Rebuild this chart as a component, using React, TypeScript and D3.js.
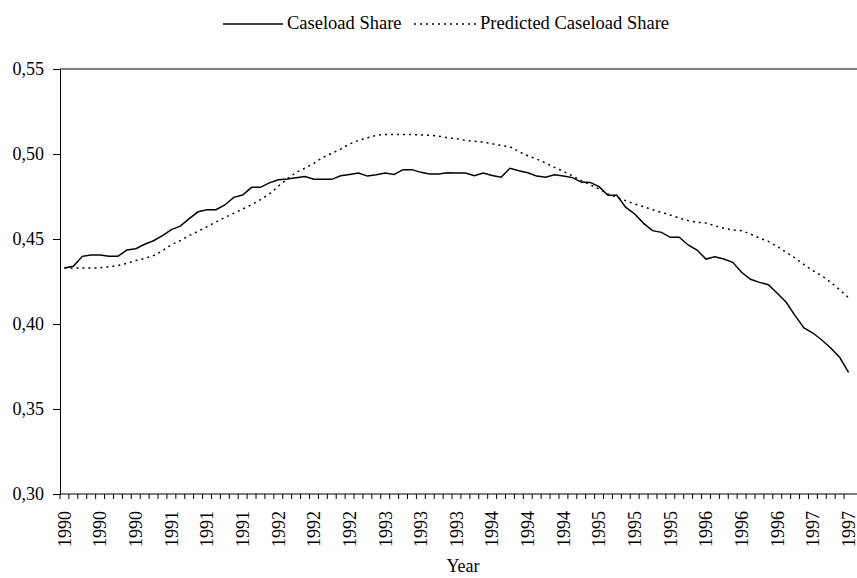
import { useEffect, useRef } from 'react';
import * as d3 from 'd3';

// monthly, Jan 1990 - May 1997
const tickLabels = [
  '1990', '1990', '1990', '1991', '1991', '1991', '1992', '1992', '1992', '1993', '1993', '1993',
  '1994', '1994', '1994', '1995', '1995', '1995', '1996', '1996', '1996', '1997', '1997',
];

const caseloadShare = [
  0.433, 0.434, 0.4398, 0.4406, 0.4406, 0.4398, 0.4398, 0.4435, 0.4443, 0.4469,
  0.449, 0.452, 0.4555, 0.4576, 0.462, 0.466, 0.4672, 0.4672, 0.47, 0.4745,
  0.4759, 0.4804, 0.4804, 0.483, 0.4849, 0.4853, 0.486, 0.4868, 0.4851, 0.4851,
  0.4851, 0.4872, 0.488, 0.4888, 0.487, 0.4878, 0.4888, 0.488, 0.4908, 0.4908,
  0.4892, 0.4882, 0.4882, 0.489, 0.4888, 0.4888, 0.4872, 0.4888, 0.4874, 0.4863,
  0.4916, 0.4902, 0.489, 0.487, 0.4863, 0.4878, 0.487, 0.4861, 0.4835, 0.4833,
  0.4808, 0.4757, 0.4757, 0.4686, 0.4647, 0.4592, 0.4549, 0.4539, 0.451, 0.451,
  0.4465, 0.4435, 0.4382, 0.4396, 0.4382, 0.4363, 0.4304, 0.4263, 0.4245, 0.4231,
  0.4181, 0.4128, 0.4049, 0.3977, 0.3947, 0.3906, 0.3859, 0.3804, 0.3715,
];

const predictedShare = [
  0.433, 0.433, 0.433, 0.433, 0.433, 0.4337, 0.4343, 0.4357, 0.4373, 0.4386,
  0.4402, 0.4431, 0.4467, 0.449, 0.452, 0.4545, 0.4573, 0.46, 0.4627, 0.4651,
  0.4676, 0.4702, 0.4731, 0.4765, 0.481, 0.4853, 0.4892, 0.4917, 0.4945, 0.498,
  0.5004, 0.5029, 0.5059, 0.508, 0.5095, 0.511, 0.5115, 0.5115, 0.5115, 0.5115,
  0.5112, 0.511, 0.5105, 0.5095, 0.509, 0.508, 0.5075, 0.507, 0.506, 0.505,
  0.5043, 0.5014, 0.499, 0.497, 0.4947, 0.4921, 0.4898, 0.4872, 0.4843, 0.4819,
  0.4794, 0.4765, 0.4745, 0.4725, 0.4706, 0.469, 0.4672, 0.4657, 0.4641, 0.4623,
  0.4608, 0.4598, 0.4594, 0.4578, 0.4563, 0.4553, 0.4549, 0.4529, 0.4506, 0.4486,
  0.4455, 0.4422, 0.4388, 0.4349, 0.4314, 0.4284, 0.4245, 0.4202, 0.4155,
];

const yTicks = [0.3, 0.35, 0.4, 0.45, 0.5, 0.55];

const FONT = 'Liberation Serif, Times New Roman, serif';

function App() {
  const svgRef = useRef<SVGSVGElement>(null);

  useEffect(() => {
    const width = 857,
      height = 578;
    const margin = { top: 69, right: 4, bottom: 84, left: 60 };

    const svg = d3.select(svgRef.current);
    svg.selectAll('*').remove();

    const months = caseloadShare.map((_, i) => i);
    const x = d3
      .scaleBand<number>()
      .domain(months)
      .range([margin.left, width - margin.right]);
    const y = d3
      .scaleLinear()
      .domain([0.3, 0.55])
      .range([height - margin.bottom, margin.top]);
    const cx = (i: number) => (x(i) as number) + x.bandwidth() / 2;

    // plot top border
    svg
      .append('line')
      .attr('x1', margin.left)
      .attr('x2', width)
      .attr('y1', y(0.55))
      .attr('y2', y(0.55))
      .attr('stroke', '#000')
      .attr('stroke-width', 1);

    // y axis
    const yAxis = svg
      .append('g')
      .attr('transform', `translate(${margin.left},0)`)
      .call(
        d3
          .axisLeft(y)
          .tickValues(yTicks)
          .tickSize(7)
          .tickSizeOuter(0)
          .tickPadding(9)
          .tickFormat((d) => d3.format('.2f')(d as number).replace('.', ',')),
      );
    yAxis
      .selectAll('text')
      .style('font-family', FONT)
      .attr('font-size', 18)
      .attr('fill', '#000');
    yAxis.selectAll('line,path').attr('stroke', '#000');

    // x axis: ticks on band edges, labels every 4th month
    const xAxis = svg.append('g');
    xAxis
      .append('line')
      .attr('x1', margin.left)
      .attr('x2', width)
      .attr('y1', y(0.3))
      .attr('y2', y(0.3))
      .attr('stroke', '#000');
    xAxis
      .selectAll('.tick')
      .data(months)
      .join('line')
      .attr('class', 'tick')
      .attr('x1', (d) => x(d) as number)
      .attr('x2', (d) => x(d) as number)
      .attr('y1', y(0.3))
      .attr('y2', y(0.3) + 5)
      .attr('stroke', '#000');
    xAxis
      .selectAll('text')
      .data(tickLabels)
      .join('text')
      .attr('transform', (_, i) => `translate(${cx(i * 4)},${y(0.3) + 17}) rotate(-90)`)
      .attr('dy', '0.35em')
      .attr('text-anchor', 'end')
      .style('font-family', FONT)
      .attr('font-size', 18)
      .text((d) => d);

    svg
      .append('text')
      .attr('x', 463)
      .attr('y', 572)
      .attr('text-anchor', 'middle')
      .style('font-family', FONT)
      .attr('font-size', 18)
      .text('Year');

    const line = d3
      .line<number>()
      .x((_, i) => cx(i))
      .y((d) => y(d));

    svg
      .append('path')
      .datum(predictedShare)
      .attr('fill', 'none')
      .attr('stroke', '#000')
      .attr('stroke-width', 1.5)
      .attr('stroke-dasharray', '2,4')
      .attr('d', line);

    svg
      .append('path')
      .datum(caseloadShare)
      .attr('fill', 'none')
      .attr('stroke', '#000')
      .attr('stroke-width', 1.5)
      .attr('d', line);

    // legend
    const legend = svg.append('g').style('font-family', FONT).attr('font-size', 18.5);
    legend
      .append('line')
      .attr('x1', 223)
      .attr('x2', 283)
      .attr('y1', 24)
      .attr('y2', 24)
      .attr('stroke', '#000')
      .attr('stroke-width', 1.5);
    legend.append('text').attr('x', 287).attr('y', 29).text('Caseload Share');
    legend
      .append('line')
      .attr('x1', 414)
      .attr('x2', 476)
      .attr('y1', 24)
      .attr('y2', 24)
      .attr('stroke', '#000')
      .attr('stroke-width', 1.5)
      .attr('stroke-dasharray', '2,4');
    legend.append('text').attr('x', 480).attr('y', 29).text('Predicted Caseload Share');
  }, []);

  return (
    <svg
      ref={svgRef}
      width={857}
      height={578}
      style={{ position: 'absolute', left: 0, top: 0, background: '#fff' }}
    />
  );
}

export default App;
